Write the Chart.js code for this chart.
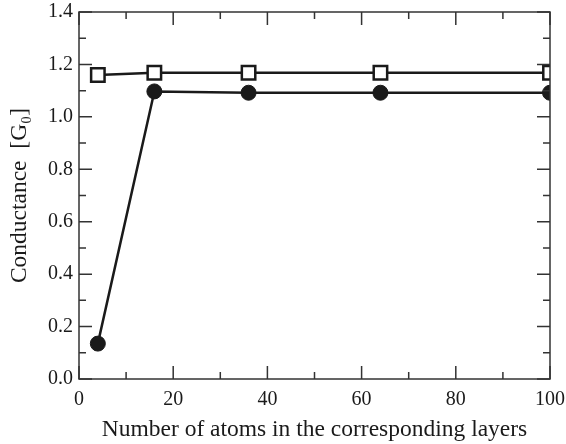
<!DOCTYPE html>
<html>
<head>
<meta charset="utf-8">
<script src="https://cdn.jsdelivr.net/npm/chart.js@4"></script>
<style>
  html, body { margin: 0; padding: 0; background: #fff; }
  #wrap { width: 566px; height: 444px; }
</style>
</head>
<body>
<div id="wrap"><canvas id="condChart" width="566" height="444"></canvas></div>
<script>
const atoms = [4, 16, 36, 64, 100];
const squareVals = [1.160, 1.168, 1.168, 1.168, 1.168];
const circleVals = [0.135, 1.097, 1.092, 1.092, 1.092];
const xTicks = [0, 20, 40, 60, 80, 100];
const yTicks = [0, 0.2, 0.4, 0.6, 0.8, 1.0, 1.2, 1.4];

const ink = '#1a1a1a';
const serif = '"Liberation Serif", "Times New Roman", serif';

// frame on all four sides with inward major/minor ticks
const framePlugin = {
    id: 'frame',
    afterDraw(chart) {
        const { ctx, chartArea: a, scales } = chart;
        const x = scales.x, y = scales.y;
        ctx.save();
        ctx.strokeStyle = '#333';
        ctx.lineWidth = 1.5;
        ctx.strokeRect(a.left, a.top, a.right - a.left, a.bottom - a.top);
        ctx.beginPath();
        for (let v = 0; v <= 100; v += 10) {
            const px = x.getPixelForValue(v);
            const len = v % 20 === 0 ? 13 : 7;
            ctx.moveTo(px, a.bottom); ctx.lineTo(px, a.bottom - len);
            ctx.moveTo(px, a.top); ctx.lineTo(px, a.top + len);
        }
        for (let i = 0; i <= 14; i++) {
            const py = y.getPixelForValue(i / 10);
            const len = i % 2 === 0 ? 13 : 7;
            ctx.moveTo(a.left, py); ctx.lineTo(a.left + len, py);
            ctx.moveTo(a.right, py); ctx.lineTo(a.right - len, py);
        }
        ctx.stroke();
        ctx.restore();
    }
};

const ctx = document.getElementById('condChart').getContext('2d');
new Chart(ctx, {
    type: 'line',
    data: {
        datasets: [{
            label: 'squares',
            data: atoms.map((a, i) => ({ x: a, y: squareVals[i] })),
            borderColor: ink,
            borderWidth: 2.5,
            pointStyle: 'rect',
            pointRadius: 9.5,
            pointBorderWidth: 2.5,
            pointBackgroundColor: '#fff',
            pointBorderColor: ink,
            tension: 0
        }, {
            label: 'circles',
            data: atoms.map((a, i) => ({ x: a, y: circleVals[i] })),
            borderColor: ink,
            borderWidth: 2.5,
            pointStyle: 'circle',
            pointRadius: 7.5,
            pointBorderWidth: 1,
            pointBackgroundColor: ink,
            pointBorderColor: ink,
            tension: 0
        }]
    },
    options: {
        responsive: false,
        animation: false,
        layout: { padding: { top: 9, right: 16, left: 0, bottom: 0 } },
        plugins: { legend: { display: false }, tooltip: { enabled: false } },
        scales: {
            x: {
                type: 'linear',
                min: 0, max: 100,
                grid: { display: false, drawTicks: false },
                border: { display: false },
                afterBuildTicks(s) { s.ticks = xTicks.map(v => ({ value: v })); },
                afterFit(s) { s.height = 65; s.paddingLeft = 0; s.paddingRight = 0; },
                ticks: {
                    color: ink, padding: 9,
                    font: { family: serif, size: 20 },
                    maxRotation: 0
                },
                title: {
                    display: true,
                    text: 'Number of atoms in the corresponding layers',
                    color: ink,
                    font: { family: serif, size: 23.5 },
                    padding: { top: 0, bottom: 0 }
                }
            },
            y: {
                min: 0, max: 1.4,
                grid: { display: false, drawTicks: false },
                border: { display: false },
                afterBuildTicks(s) { s.ticks = yTicks.map(v => ({ value: v })); },
                afterFit(s) { s.width = 79; s.paddingTop = 0; s.paddingBottom = 0; },
                ticks: {
                    color: ink, padding: 6,
                    font: { family: serif, size: 20 },
                    callback: v => v.toFixed(1)
                },
                title: {
                    display: true,
                    text: 'Conductance  [G₀]',
                    color: ink,
                    font: { family: serif, size: 23.5 },
                    padding: { top: 6, bottom: 0 }
                }
            }
        }
    },
    plugins: [framePlugin]
});
</script>
</body>
</html>
